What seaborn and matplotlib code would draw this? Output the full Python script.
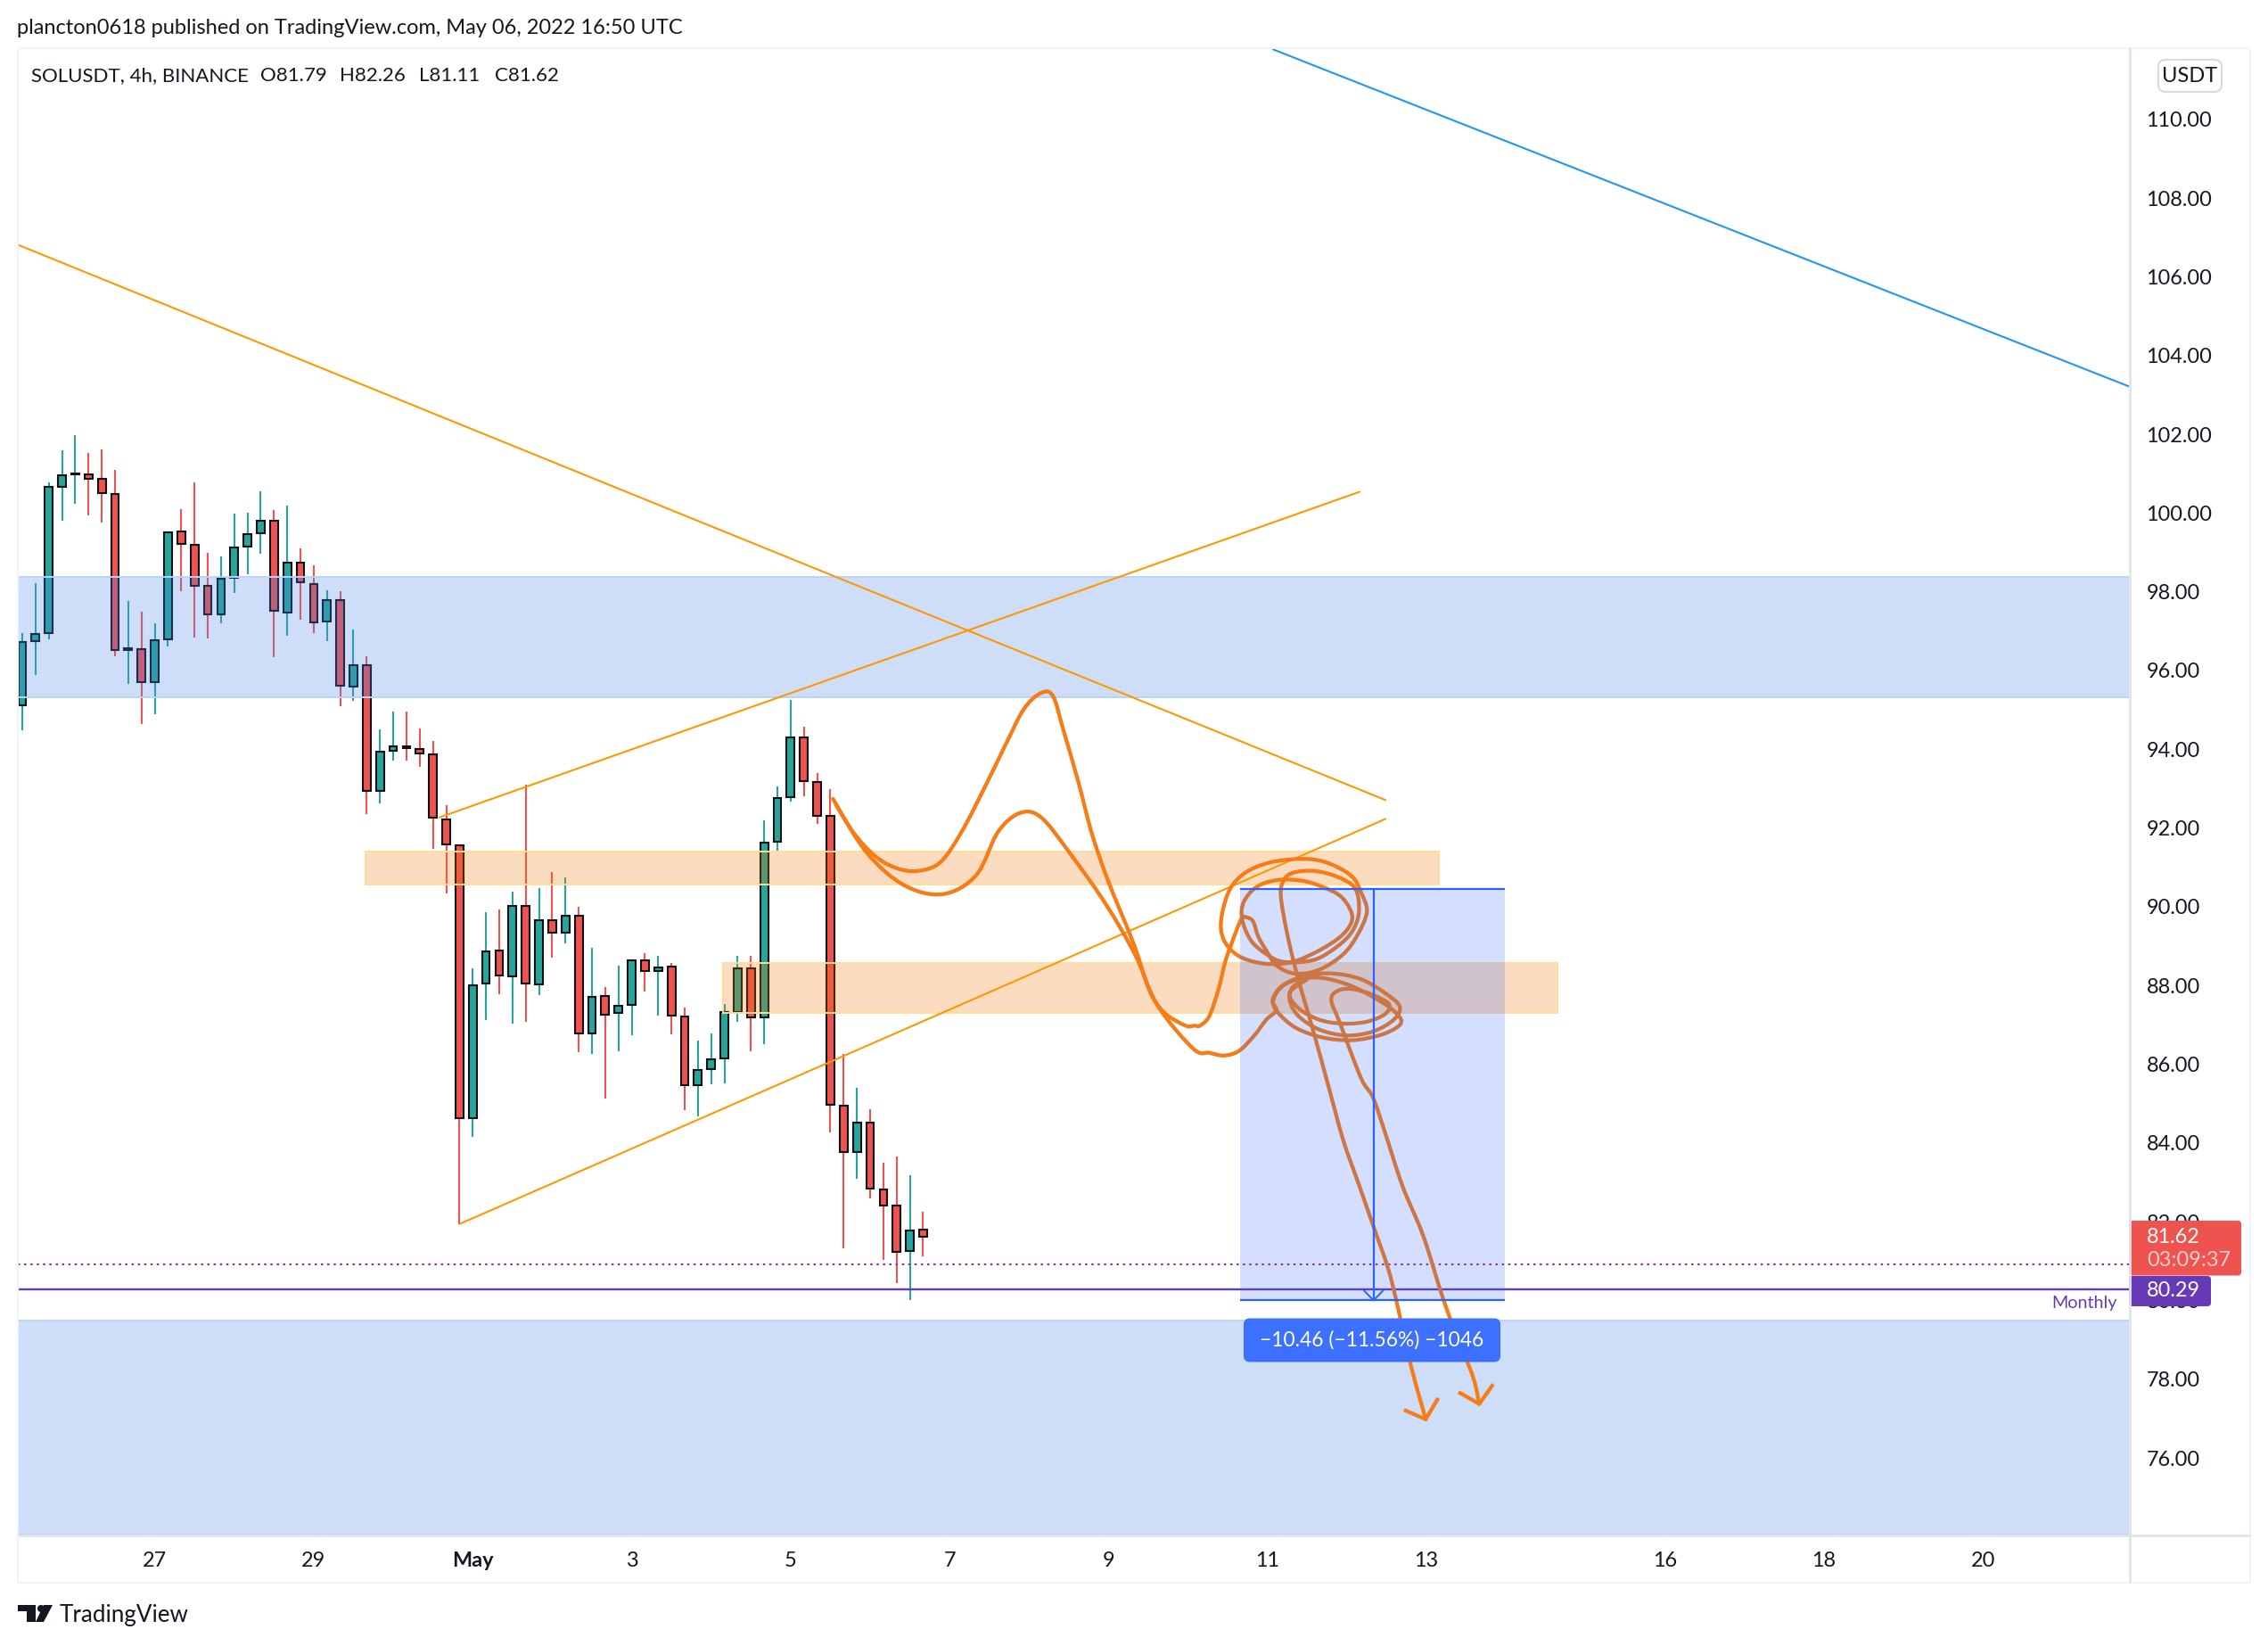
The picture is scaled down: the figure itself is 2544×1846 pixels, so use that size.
import numpy as np
import pandas as pd
import matplotlib
matplotlib.use("Agg")
import matplotlib.pyplot as plt
from matplotlib.patches import Rectangle, FancyBboxPatch, Polygon, Circle, PathPatch
from matplotlib.path import Path
import seaborn as sns

W, H = 2544, 1846
FONT = ["Lato", "DejaVu Sans"]

# OHLC values (one row per 4h bar)
opens = [95.12,96.75,96.95,100.67,100.98,100.99,100.87,100.49,96.52,96.54,95.71,96.79,99.53,99.19,98.15,97.43,98.36,99.15,99.49,99.80,
         97.47,98.74,98.20,97.25,97.79,95.59,96.14,92.94,93.96,94.08,94.01,93.87,92.22,91.57,84.63,88.05,88.89,88.23,90.03,88.03,
         89.66,89.34,89.78,86.78,87.74,87.30,87.51,88.64,88.36,88.49,87.22,85.47,85.88,86.15,87.33,88.44,87.20,91.65,92.78,94.30,
         93.17,92.31,84.95,83.77,84.51,82.82,82.40,81.26,81.79]
highs = [96.95,98.23,100.78,101.59,101.97,101.52,101.62,101.09,97.76,97.49,97.19,99.53,100.10,100.78,98.98,98.90,99.99,100.01,100.55,100.08,
         100.19,99.10,98.67,98.04,98.02,97.04,96.36,94.50,94.96,94.96,94.53,94.21,92.57,91.57,88.44,89.86,89.92,90.38,93.11,90.48,
         90.89,90.75,89.99,88.96,87.95,88.51,88.64,88.82,88.75,88.58,87.43,86.60,86.78,87.52,88.75,88.75,92.19,93.05,95.25,94.57,
         93.40,92.99,86.27,85.39,84.85,83.50,83.65,83.19,82.26]
lows = [94.49,95.88,96.80,99.81,100.24,99.93,99.77,96.37,95.65,94.63,94.90,96.61,98.02,96.84,96.82,97.20,97.97,98.45,98.97,96.35,
        96.88,97.29,96.95,96.75,95.10,95.23,92.36,92.62,93.71,93.71,93.55,91.47,90.33,81.94,84.16,87.11,87.78,87.03,87.08,87.76,
        88.70,89.06,86.30,86.27,85.12,86.33,86.74,87.84,87.24,86.76,84.84,84.68,85.48,85.52,87.08,86.33,86.52,91.39,92.67,92.80,
        92.10,84.26,81.33,83.08,82.58,81.02,80.43,80.01,81.11]
closes = [96.73,96.93,100.67,100.96,100.99,100.87,100.51,96.52,96.57,95.71,96.77,99.50,99.22,98.15,97.43,98.33,99.12,99.47,99.80,97.52,
          98.74,98.24,97.22,97.79,95.62,96.14,92.94,93.94,94.08,94.03,93.89,92.27,91.59,84.63,88.01,88.87,88.26,90.03,88.04,89.66,
          89.34,89.78,86.78,87.72,87.26,87.49,88.64,88.36,88.46,87.23,85.47,85.86,86.13,87.33,88.44,87.20,91.63,92.76,94.30,93.19,
          92.31,84.98,83.77,84.51,82.84,82.41,81.23,81.78,81.62]

# Axis labels
price_ticks = [76,78,80,82,84,86,88,90,92,94,96,98,100,102,104,106,108,110]
date_ticks = [10,22,34,46,58,70,82,94,106,124,136,148]
date_labels = ["27","29","May","3","5","7","9","11","13","16","18","20"]

# Zones (price bands and bar ranges)
blue_upper = (95.31, 98.37)
blue_lower = (74.05, 79.49)
orange_a = (25.9, 106.9, 90.57, 91.41)
orange_b = (52.9, 115.9, 87.30, 88.58)
position = (91.9, 111.9, 80.00, 90.46)
position_mid = 102.0

# Levels
last_close_level = 80.915
monthly_level = 80.29

# Trend lines (bar, price)
line_blue_x = [94.4, 159.0];  line_blue_y = [111.78, 103.22]
line_fall_x = [-0.37, 102.9]; line_fall_y = [106.82, 92.71]
line_up_x = [31.5, 100.95];   line_up_y = [92.27, 100.54]
line_low_x = [33.0, 102.9];   line_low_y = [81.94, 92.23]

# Freehand strokes (bar, price)
stroke_a = [(61.2,92.74),(62.7,91.90),(64.4,91.28),(66.0,90.98),(67.6,90.91),(69.3,91.13),(70.9,91.90),(72.6,93.00),(74.2,94.10),(75.6,95.02),
 (76.9,95.43),(77.8,95.35),(78.6,94.47),(79.7,93.19),(80.7,91.90),(81.8,90.80),(82.9,89.88),(84.0,88.96),(85.1,87.86),(86.2,87.31),(87.8,86.98),
 (88.5,86.98),(88.9,86.98),(89.6,87.22),(90.3,87.91),(90.8,88.60),(91.2,88.99),(92.0,89.68),(92.4,89.73),(92.9,89.63),(93.3,89.24),(93.9,88.89),
 (94.7,88.50),(96.1,88.30),(97.9,88.40),(99.7,88.79),(100.8,89.29),(101.5,89.88),(101.05,90.37),(100.4,90.76),(99.0,91.05),(97.5,91.20),(95.7,91.20),
 (93.9,91.10),(92.3,90.86),(91.2,90.47),(90.6,89.88),(90.5,89.38),(91.0,88.99),(92.1,88.70),(93.9,88.55),(95.9,88.60),(97.9,88.89),(99.5,89.24),
 (100.3,89.58),(100.3,89.88),(99.5,90.27),(98.1,90.51),(96.6,90.66),(94.8,90.68),(93.2,90.51),(92.2,90.12),(92.08,89.68),(92.75,89.14),(93.9,88.80),
 (95.2,88.60),(97.5,88.65),(99.26,88.99),(100.4,89.38),(100.9,89.88),(100.6,90.47),(99.26,90.76),(97.5,90.91),(95.9,90.86),(95.2,90.66),(95.0,90.27),
 (95.44,89.38),(96.2,88.30),(97.46,86.83),(98.58,85.46),(99.7,84.08),(100.83,83.00),(101.95,81.92),(103.07,80.84),(103.74,79.96),(104.86,78.29),(105.94,76.98)]
arrow_a = [(104.3,77.22),(105.94,76.98),(106.88,77.52)]
stroke_b = [(61.4,92.6),(63.8,91.35),(66.6,90.54),(69.5,90.32),(72.0,90.80),(73.65,91.90),(75.3,92.38),(76.9,92.27),(79.1,91.35),(81.8,90.06),
 (84.0,88.78),(85.7,87.49),(88.4,86.39),(89.6,86.29),(90.7,86.22),(91.85,86.34),(93.0,86.73),(93.9,87.13),(94.66,87.37),(94.37,87.62),(95.0,87.96),
 (96.34,88.16),(98.13,88.19),(100.15,88.01),(101.95,87.71),(103.3,87.42),(104.08,87.13),(103.74,86.93),(102.4,86.73),(100.38,86.61),(98.13,86.68),
 (96.1,86.93),(94.77,87.32),(94.43,87.62),(95.2,88.01),(97.0,88.26),(99.03,88.30),(101.05,88.16),(102.85,87.81),(103.97,87.47),(103.52,87.13),
 (101.95,86.83),(99.93,86.73),(97.9,86.88),(96.34,87.22),(95.67,87.62),(95.9,87.96),(97.0,88.16),(95.67,87.81),(96.34,87.42),(97.9,87.13),(99.7,87.03),
 (101.5,87.08),(102.85,87.27),(103.18,87.52),(101.95,87.76),(100.38,87.91),(99.26,87.86),(98.81,87.62),(99.48,87.03),(101.05,85.65),(101.95,85.16),
 (102.85,84.28),(104.19,82.90),(105.76,81.63),(107.33,79.96),(108.68,78.78),(109.57,77.99),(109.98,77.37)]
arrow_b = [(108.41,77.67),(109.98,77.37),(111.03,77.87)]

TEAL, RED, ORANGE, STROKE, BLUE = "#26a69a", "#ef5350", "#ff9800", "#f57c17", "#2962ff"
TEXT = "#131722"

sns.set_theme(style="white", rc={"axes.edgecolor": "none", "axes.linewidth": 0})
plt.rcParams["font.family"] = FONT

df = pd.DataFrame({"open": opens, "high": highs, "low": lows, "close": closes})
df["bar"] = np.arange(len(df))
df["up"] = df["close"] >= df["open"]

fig = plt.figure(figsize=(W/100, H/100), dpi=100, facecolor="white")
ax = fig.add_axes([20/W, 1-1721/H, (2388-20)/W, (1721-54)/H])
ax.set_xlim((20-25)/14.86, (2388-25)/14.86)
ax.set_ylim(76+(1635-1721)/44.15, 76+(1635-54)/44.15)
ax.set_facecolor("white")

# candles
colors = np.where(df["up"], TEAL, RED)
ax.vlines(df["bar"], df["low"], df["high"], colors=colors, lw=1.5, zorder=2)
bottoms = df[["open","close"]].min(axis=1)
heights = (df["close"]-df["open"]).abs().clip(lower=0.03)
ax.bar(df["bar"], heights, bottom=bottoms, width=0.59, color=colors, edgecolor="#0b0e14", linewidth=1.5, zorder=3)

# zones over candles
for lo, hi in (blue_upper, blue_lower):
    ax.axhspan(lo, hi, facecolor="#4a86e8", alpha=0.27, lw=0, zorder=4)
    for v in (lo, hi):
        ax.axhline(v, color="#b9d4f8", lw=1.4, zorder=4.1)
for x0, x1, lo, hi in (orange_a, orange_b):
    ax.add_patch(Rectangle((x0, lo), x1-x0, hi-lo, facecolor="#f07404", alpha=0.25, lw=0, zorder=4.2))
    ax.add_patch(Rectangle((x0, lo), x1-x0, hi-lo, facecolor="none", edgecolor="#ffdd99", lw=1.4, zorder=4.3))

# levels
ax.axhline(last_close_level, color="#9c27b0", lw=1.5, ls=(0, (1.2, 2.2)), zorder=4.4)
ax.axhline(monthly_level, color="#673ab7", lw=1.7, zorder=4.4)

# trend lines
for (xs, ys, c) in ((line_blue_x, line_blue_y, "#2196f3"), (line_fall_x, line_fall_y, ORANGE),
                    (line_up_x, line_up_y, ORANGE), (line_low_x, line_low_y, ORANGE)):
    sns.lineplot(x=xs, y=ys, color=c, lw=1.5, ax=ax, estimator=None, sort=False, zorder=5)

# freehand strokes, rendered as smooth curves through their points
def smooth_path(points):
    p = np.array(points, dtype=float)
    verts = [p[0]]
    codes = [Path.MOVETO]
    for i in range(len(p)-1):
        p0 = p[max(i-1, 0)]; p1 = p[i]; p2 = p[i+1]; p3 = p[min(i+2, len(p)-1)]
        verts += [p1+(p2-p0)/6, p2-(p3-p1)/6, p2]
        codes += [Path.CURVE4]*3
    return Path(verts, codes)

for path in (stroke_a, stroke_b):
    ax.add_patch(PathPatch(smooth_path(path), fc="none", ec=STROKE, lw=3.1, zorder=5.2, capstyle="round", joinstyle="round"))
for path in (arrow_a, arrow_b):
    arr = np.array(path)
    ax.plot(arr[:,0], arr[:,1], color=STROKE, lw=3.1, zorder=5.2, solid_joinstyle="round", solid_capstyle="butt")

# measured position tool, above the strokes
x0, x1, lo, hi = position
ax.add_patch(Rectangle((x0, lo), x1-x0, hi-lo, facecolor=BLUE, alpha=0.2, lw=0, zorder=6))
ax.hlines([lo, hi], x0, x1, color=BLUE, lw=1.6, zorder=6.1)
ax.vlines(position_mid, lo, hi, color=BLUE, lw=1.6, zorder=6.1)
ax.plot([position_mid-0.72, position_mid, position_mid+0.72], [lo+0.25, lo, lo+0.25], color=BLUE, lw=1.4, zorder=6.1)

# axes
SIZE = 16.9
ax.yaxis.tick_right()
ax.set_yticks(price_ticks)
ax.set_yticklabels([f"{v:.2f}" for v in price_ticks], fontsize=SIZE, color=TEXT, ha="left")
ax.tick_params(axis="y", length=0, pad=14)
ax.set_xticks(date_ticks)
ax.set_xticklabels(date_labels, fontsize=SIZE, color=TEXT)
for t, lab in zip(ax.get_xticklabels(), date_labels):
    if lab == "May":
        t.set_fontweight("bold")
ax.tick_params(axis="x", length=0, pad=14)
sns.despine(ax=ax, left=True, bottom=True, right=True, top=True)

# overlay: chart frame and labels, in figure pixels
ov = fig.add_axes([0, 0, 1, 1], zorder=10, facecolor="none")
ov.set_xlim(0, W); ov.set_ylim(H, 0); ov.axis("off")
FRAME = "#f0f3fa"
for xs, ys, c, lw in (([19.5,2523.5],[53.5,53.5],FRAME,1.5), ([19.5,2523.5],[1775,1775],FRAME,1.5),
                      ([19.5,19.5],[53.5,1775],FRAME,1.5), ([2523.5,2523.5],[53.5,1775],FRAME,1.5),
                      ([2389,2389],[54,1775],"#e0e3eb",2), ([19.5,2523.5],[1722,1722],"#e0e3eb",2)):
    ov.plot(xs, ys, color=c, lw=lw, solid_capstyle="butt")

ov.text(19, 31, "plancton0618 published on TradingView.com, May 06, 2022 16:50 UTC", fontsize=17.05, color=TEXT, va="center", ha="left")
ov.text(35, 85, "SOLUSDT, 4h, BINANCE", fontsize=16, color=TEXT, va="center", ha="left")
for xpos, legend_text in zip((292, 381, 470.5, 555), ("O81.79", "H82.26", "L81.11", "C81.62")):
    ov.text(xpos, 85, legend_text, fontsize=16, color=TEXT, va="center", ha="left")

ov.add_patch(FancyBboxPatch((2424,70),65,30,boxstyle="round,pad=3,rounding_size=8", fc="white", ec="#d6dae3", lw=1.5))
ov.text(2456.5, 85, "USDT", fontsize=17, color=TEXT, ha="center", va="center")

# price labels
ov.add_patch(FancyBboxPatch((2388,1369),126,61.5,boxstyle="round,pad=0,rounding_size=4", fc=RED, ec="none"))
ov.text(2408, 1387, "81.62", fontsize=SIZE, color="white", va="center", ha="left")
ov.text(2408, 1414, "03:09:37", fontsize=SIZE, color="#fcd0cf", va="center", ha="left")
ov.add_patch(FancyBboxPatch((2388,1431),92,34,boxstyle="round,pad=0,rounding_size=4", fc="#673ab7", ec="none"))
ov.text(2408, 1448, "80.29", fontsize=SIZE, color="white", va="center", ha="left")
ov.text(2375, 1462, "Monthly", fontsize=14.2, color="#673ab7", va="center", ha="right")

# measure label
ov.add_patch(FancyBboxPatch((1395,1478.5),288,49,boxstyle="round,pad=0,rounding_size=7", fc="#3d70ff", ec="none"))
ov.text(1539, 1503, "\u221210.46 (\u221211.56%) \u22121046", fontsize=16.4, color="white", ha="center", va="center")

# wordmark
ov.text(67, 1811, "TradingView", fontsize=18.7, color=TEXT, va="center", ha="left")
ov.add_patch(Polygon([(20,1800),(40,1800),(40,1819),(30,1819),(30,1807),(20,1807)], fc=TEXT, ec="none"))
ov.add_patch(Circle((46,1804),4,fc=TEXT,ec="none"))
ov.add_patch(Polygon([(49,1800),(59,1800),(49,1819),(40,1819)], fc=TEXT, ec="none"))

fig.savefig("out.png", dpi=100, facecolor="white")
